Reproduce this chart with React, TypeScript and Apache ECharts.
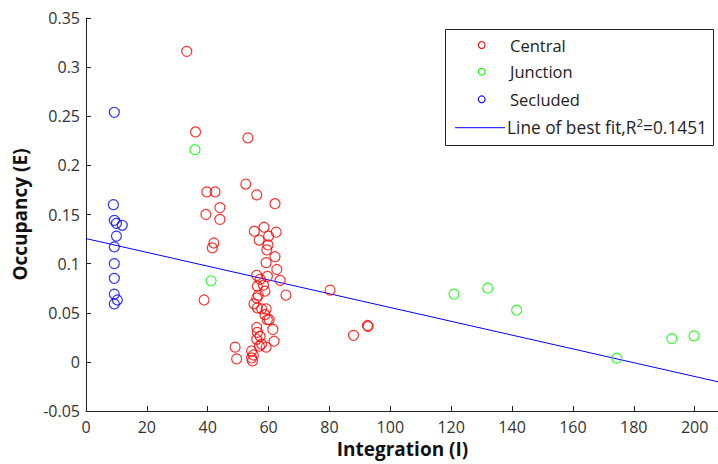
import React, { useEffect, useRef } from "react";
import * as echarts from "echarts";

const central: [number, number][] = [
  [33.1, 0.316], [36.0, 0.234], [53.2, 0.228], [52.5, 0.181], [39.7, 0.173], [42.4, 0.173],
  [56.1, 0.170], [62.1, 0.161], [44.0, 0.157], [39.4, 0.150], [44.0, 0.145], [58.5, 0.137],
  [55.3, 0.133], [62.5, 0.132], [60.0, 0.128], [56.9, 0.124], [42.0, 0.121], [59.8, 0.119],
  [41.5, 0.116], [59.4, 0.114], [62.1, 0.107], [59.2, 0.101], [62.7, 0.094], [56.1, 0.088],
  [59.6, 0.087], [57.2, 0.084], [63.8, 0.083], [58.3, 0.078], [56.3, 0.077], [58.8, 0.072],
  [80.2, 0.073], [65.7, 0.068], [56.6, 0.068], [56.1, 0.065], [38.8, 0.063], [55.2, 0.059],
  [56.3, 0.055], [57.7, 0.054], [59.2, 0.054], [58.8, 0.048], [59.6, 0.043], [60.2, 0.043],
  [92.5, 0.037], [92.7, 0.036], [56.1, 0.035], [61.4, 0.033], [56.3, 0.030], [87.9, 0.027],
  [57.2, 0.026], [56.1, 0.023], [61.8, 0.021], [57.7, 0.018], [57.0, 0.016], [59.2, 0.015],
  [49.0, 0.015], [54.4, 0.011], [55.0, 0.007], [54.4, 0.004], [49.5, 0.003], [54.7, 0.001],
];

const junction: [number, number][] = [
  [35.8, 0.216], [41.1, 0.0825], [120.9, 0.069], [132.0, 0.075], [141.5, 0.0526],
  [174.4, 0.0037], [192.5, 0.0237], [199.8, 0.0265],
];

const secluded: [number, number][] = [
  [9.3, 0.254], [9.0, 0.160], [9.3, 0.144], [10.0, 0.141], [11.9, 0.139], [10.0, 0.128],
  [9.3, 0.117], [9.3, 0.100], [9.3, 0.085], [9.3, 0.069], [10.3, 0.063], [9.3, 0.059],
];

const bestFit: [number, number][] = [
  [0, 0.1255], [208, -0.0205],
];

const legendLabels = ["Central", "Junction", "Secluded"];
const legendColors = ["#ff0000", "#00ff00", "#0000ff"];
const fitLabel = "Line of best fit,R";
const fitSup = "2";
const fitValue = "=0.1451";

const FONT = "'Open Sans', 'Liberation Sans', sans-serif";

export default function App() {
  const ref = useRef<HTMLDivElement>(null);
  useEffect(() => {
    if (!ref.current) return;
    const chart = echarts.init(ref.current, null, { renderer: "svg" });
    const scatter = (name: string, data: [number, number][], color: string) => ({
      name,
      type: "scatter",
      data,
      symbol: "circle",
      symbolSize: 10,
      itemStyle: { color: "rgba(0,0,0,0)", borderColor: color, borderWidth: 1.2 },
      emphasis: { disabled: true },
      z: 3,
    });
    const legendY = [45, 71.7, 99.3];
    const graphics: any[] = [
      {
        type: "rect",
        shape: { x: 445.5, y: 29.5, width: 268, height: 116 },
        style: { fill: "#fff", stroke: "#222", lineWidth: 1 },
        z: 10,
      },
    ];
    legendLabels.forEach((lab, i) => {
      graphics.push({
        type: "circle",
        shape: { cx: 481.7, cy: legendY[i], r: 3.4 },
        style: { fill: "none", stroke: legendColors[i], lineWidth: 1.1 },
        z: 11,
      });
      graphics.push({
        type: "text",
        x: 510,
        y: legendY[i],
        style: { text: lab, font: `16.5px ${FONT}`, fill: "#222", verticalAlign: "middle" },
        z: 11,
      });
    });
    graphics.push({
      type: "line",
      shape: { x1: 455, y1: 127.7, x2: 505, y2: 127.7 },
      style: { stroke: "#0000ff", lineWidth: 1 },
      z: 11,
    });
    graphics.push({
      type: "text",
      x: 507,
      y: 127.7,
      style: {
        text: `{b|${fitLabel}}{s|${fitSup}}{b|${fitValue}}`,
        verticalAlign: "middle",
        rich: {
          b: { fontSize: 17.3, fontFamily: FONT, fill: "#222", lineHeight: 22 },
          s: { fontSize: 11.5, fontFamily: FONT, fill: "#222", verticalAlign: "top", lineHeight: 14 },
        },
      },
      z: 11,
    });

    chart.setOption({
      animation: false,
      backgroundColor: "#fff",
      grid: {
        left: 86,
        top: 18,
        width: 633,
        height: 393,
        containLabel: false,
        outerBoundsMode: "none",
      },
      xAxis: {
        type: "value",
        min: 0,
        max: 208,
        interval: 20,
        name: "Integration (I)",
        nameLocation: "middle",
        nameGap: 28,
        nameTextStyle: { fontSize: 19, fontWeight: "bold", fontFamily: FONT, color: "#111" },
        axisLine: { onZero: false, lineStyle: { color: "#222", width: 1 } },
        axisTick: { inside: true, length: 5, lineStyle: { color: "#222" } },
        axisLabel: { fontSize: 16, fontFamily: FONT, color: "#333", margin: 8, showMaxLabel: false },
        splitLine: { show: false },
      },
      yAxis: {
        type: "value",
        min: -0.05,
        max: 0.35,
        interval: 0.05,
        name: "Occupancy (E)",
        nameLocation: "middle",
        nameGap: 57,
        nameTextStyle: { fontSize: 19, fontWeight: "bold", fontFamily: FONT, color: "#111" },
        axisLine: { onZero: false, lineStyle: { color: "#222", width: 1 } },
        axisTick: { inside: true, length: 5, lineStyle: { color: "#222" } },
        axisLabel: {
          fontSize: 16,
          fontFamily: FONT,
          color: "#333",
          margin: 6,
          formatter: (v: number) => String(Math.round(v * 100) / 100),
        },
        splitLine: { show: false },
      },
      series: [
        scatter("Central", central, "#ff0000"),
        scatter("Junction", junction, "#00ff00"),
        scatter("Secluded", secluded, "#0000ff"),
        {
          name: "Line of best fit",
          type: "line",
          data: bestFit,
          symbol: "none",
          lineStyle: { color: "#0000ff", width: 1 },
          emphasis: { disabled: true },
          z: 2,
        },
      ],
      graphic: graphics,
    });
    return () => chart.dispose();
  }, []);
  return (
    <div
      ref={ref}
      style={{ position: "absolute", left: 0, top: 0, width: 718, height: 464, background: "#fff" }}
    />
  );
}
